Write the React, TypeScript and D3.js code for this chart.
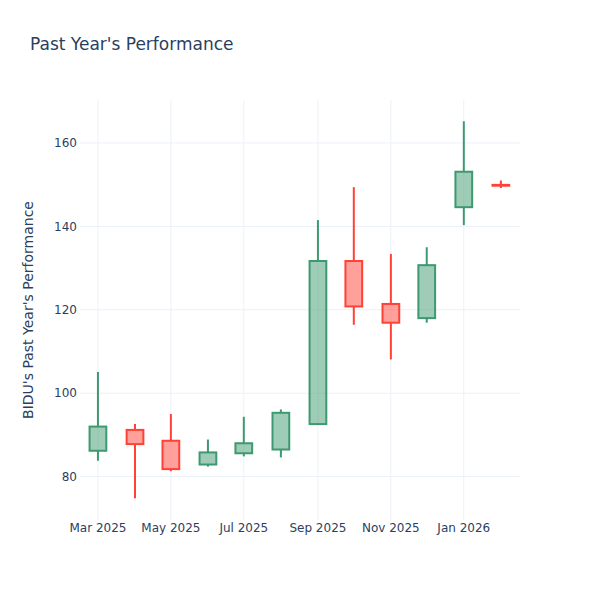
import React from "react";
import * as d3 from "d3";

const dates = ["2025-03-01","2025-04-01","2025-05-01","2025-06-01","2025-07-01","2025-08-01","2025-09-01","2025-10-01","2025-11-01","2025-12-01","2026-01-01","2026-02-01"];
const opens = [86.2, 91.2, 88.6, 82.9, 85.6, 86.5, 92.6, 131.7, 121.4, 118.0, 144.6, 149.95];
const highs = [105.1, 92.6, 95.0, 88.9, 94.35, 96.1, 141.5, 149.4, 133.4, 135.0, 165.2, 151.0];
const lows = [83.8, 74.8, 81.3, 82.4, 84.85, 84.6, 92.5, 116.4, 108.1, 116.9, 140.3, 149.2];
const closes = [92.0, 87.8, 81.8, 85.8, 88.0, 95.3, 131.7, 120.8, 116.9, 130.7, 153.1, 149.75];

const yTicks = [80, 100, 120, 140, 160];
const xTicks = ["2025-03-01","2025-05-01","2025-07-01","2025-09-01","2025-11-01","2026-01-01"];

const W = 600, H = 600;
const M = { l: 80, r: 80, t: 100, b: 80 };
const INC = "#3D9970";
const DEC = "#FF4136";
const FONT = "'DejaVu Sans', Verdana, sans-serif";
const TXT = "#2a3f5f";
const GRID = "#EBF0F8";

const parse = d3.utcParse("%Y-%m-%d");

export default function App() {
  const x = d3.scaleUtc()
    .domain([parse("2025-02-14")!, parse("2026-02-17")!])
    .range([M.l, W - M.r]);
  const y = d3.scaleLinear().domain([69.6, 170.3]).range([H - M.b, M.t]);
  const fmt = d3.utcFormat("%b %Y");
  const data = dates.map((d, i) => ({
    date: parse(d)!,
    o: opens[i], h: highs[i], l: lows[i], c: closes[i],
  }));
  return (
    <svg width={W} height={H} style={{ position: "absolute", left: 0, top: 0, background: "#fff" }}>
      <rect x={0} y={0} width={W} height={H} fill="#fff" />
      {xTicks.map((t) => {
        const xx = x(parse(t)!);
        return <line key={"xg" + t} x1={xx} x2={xx} y1={M.t} y2={H - M.b} stroke={GRID} strokeWidth={1} />;
      })}
      {yTicks.map((t) => (
        <line key={"yg" + t} x1={M.l} x2={W - M.r} y1={y(t)} y2={y(t)} stroke={GRID} strokeWidth={1} />
      ))}
      {data.map((d, i) => {
        const col = d.c >= d.o ? INC : DEC;
        const cx = x(d.date);
        const hw = x(d3.utcDay.offset(d.date, 7)) - cx;
        const top = y(Math.max(d.o, d.c));
        const bot = y(Math.min(d.o, d.c));
        return (
          <g key={i}>
            <line x1={cx} x2={cx} y1={y(d.h)} y2={top} stroke={col} strokeWidth={2} />
            <line x1={cx} x2={cx} y1={bot} y2={y(d.l)} stroke={col} strokeWidth={2} />
            <rect x={cx - hw} y={top} width={2 * hw} height={Math.max(0, bot - top)}
              fill={col} fillOpacity={0.5} stroke={col} strokeWidth={2} />
          </g>
        );
      })}
      {yTicks.map((t) => (
        <text key={"yt" + t} x={M.l - 3} y={y(t)} dy="0.35em" textAnchor="end"
          fontFamily={FONT} fontSize={12} fill={TXT}>{t}</text>
      ))}
      {xTicks.map((t) => (
        <text key={"xt" + t} x={x(parse(t)!)} y={H - M.b + 12} textAnchor="middle"
          fontFamily={FONT} fontSize={12} fill={TXT}>{fmt(parse(t)!)}</text>
      ))}
      <text x={30} y={50} fontFamily={FONT} fontSize={17} fill={TXT}>Past Year's Performance</text>
      <text transform={`translate(33,${(M.t + H - M.b) / 2}) rotate(-90)`} textAnchor="middle"
        fontFamily={FONT} fontSize={14} fill={TXT}>BIDU's Past Year's Performance</text>
    </svg>
  );
}
